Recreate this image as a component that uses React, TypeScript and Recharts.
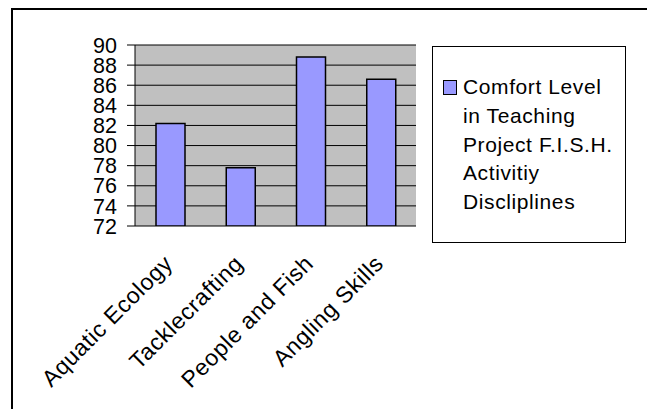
import React from 'react';
import { BarChart, Bar, XAxis, YAxis, CartesianGrid } from 'recharts';

const categories = ['Aquatic Ecology', 'Tacklecrafting', 'People and Fish', 'Angling Skills'];
const comfortLevels = [82.2, 77.8, 88.8, 86.6];
const yTicks = [72, 74, 76, 78, 80, 82, 84, 86, 88, 90];
const edgeTicks = [0, 1, 2, 3, 4];
const seriesName = 'Comfort Level in Teaching Project F.I.S.H. Activitiy Discliplines';

const BAR_COLOR = '#9999FF';
const FONT = '"Liberation Sans", Arial, sans-serif';

const data = categories.map((name, i) => ({ name, value: comfortLevels[i] }));

// rotated category label, text ends up near the tick like Excel does
const CategoryTick = (props: any) => {
  const { x, payload } = props;
  const ax = x + 4;
  const ay = 265;
  return (
    <text
      x={ax}
      y={ay}
      transform={`rotate(-45, ${ax}, ${ay})`}
      textAnchor="end"
      fontFamily={FONT}
      fontSize={23}
      letterSpacing={0.6}
      fill="#000"
    >
      {payload.value}
    </text>
  );
};

const LegendBox = () => (
  <div
    style={{
      position: 'absolute',
      left: 432,
      top: 46,
      width: 194,
      height: 197,
      boxSizing: 'border-box',
      border: '1.5px solid #000',
      background: '#fff',
      fontFamily: FONT,
    }}
  >
    <div
      style={{
        position: 'absolute',
        left: 10,
        top: 33,
        width: 14,
        height: 15,
        boxSizing: 'border-box',
        background: BAR_COLOR,
        border: '1.5px solid #000',
      }}
    />
    <div
      style={{
        position: 'absolute',
        left: 30,
        top: 26,
        width: 160,
        fontSize: 21,
        letterSpacing: 0.6,
        lineHeight: '28.8px',
        color: '#000',
        textAlign: 'left',
      }}
    >
      {seriesName}
    </div>
  </div>
);

export default function App() {
  return (
    <div style={{ position: 'absolute', left: 0, top: 0, width: 647, height: 409, overflow: 'hidden', background: '#fff' }}>
      <div
        style={{
          position: 'absolute',
          left: 11,
          top: 8,
          width: 636,
          height: 401,
          boxSizing: 'border-box',
          borderLeft: '2px solid #000',
          borderTop: '2px solid #000',
        }}
      />
      <BarChart
        width={647}
        height={409}
        data={data}
        margin={{ top: 45, right: 231, bottom: 0, left: 0 }}
        barSize={29}
        style={{ position: 'absolute', left: 0, top: 0 }}
      >
        <CartesianGrid vertical={false} stroke="#000" fill="#C0C0C0" fillOpacity={1} />
        <XAxis
          xAxisId="edge"
          type="number"
          domain={[0, 4]}
          ticks={edgeTicks}
          tick={false}
          tickSize={7}
          height={0}
          axisLine={{ stroke: '#000' }}
          tickLine={{ stroke: '#000' }}
        />
        <XAxis
          xAxisId="cat"
          dataKey="name"
          interval={0}
          axisLine={false}
          tickLine={false}
          height={183}
          tick={<CategoryTick />}
        />
        <YAxis
          width={135}
          domain={[72, 90]}
          ticks={yTicks}
          interval={0}
          allowDataOverflow
          tickSize={8}
          tickMargin={10}
          axisLine={{ stroke: '#000' }}
          tickLine={{ stroke: '#000' }}
          tick={{ fill: '#000', fontSize: 21.5, fontFamily: FONT }}
        />
        <Bar
          xAxisId="cat"
          dataKey="value"
          name={seriesName}
          fill={BAR_COLOR}
          stroke="#000"
          strokeWidth={1.5}
          isAnimationActive={false}
        />
      </BarChart>
      <LegendBox />
    </div>
  );
}
